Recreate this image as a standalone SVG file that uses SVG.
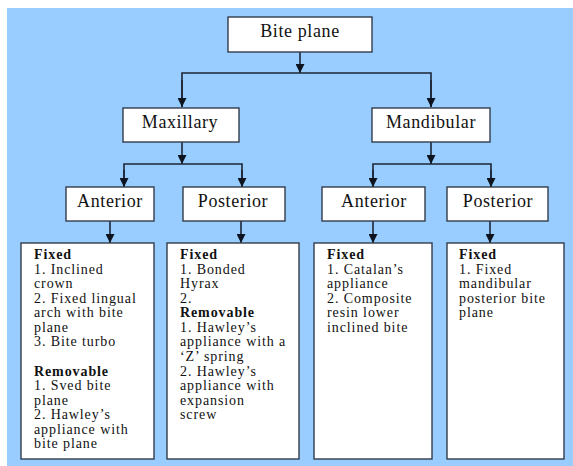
<svg xmlns="http://www.w3.org/2000/svg" width="573" height="466" viewBox="0 0 573 466">
<style>
.box{fill:#ffffff;stroke:#323c4b;stroke-width:1.4}
.head{font-family:"Liberation Serif","Times New Roman","DejaVu Serif",serif;font-size:18px;letter-spacing:0.6px;fill:#111111;text-anchor:middle}
.body{font-family:"Liberation Serif","Times New Roman","DejaVu Serif",serif;font-size:14px;letter-spacing:0.9px;fill:#111111}
.b{font-weight:bold}
.ln{fill:none;stroke:#1c2636;stroke-width:1.6}
</style>
<defs>
<marker id="ah" viewBox="0 0 10 10" refX="10" refY="5" markerWidth="9" markerHeight="9" markerUnits="userSpaceOnUse" orient="auto">
<path d="M0,0 L10,5 L0,10 z" fill="#0d1420"/>
</marker>
</defs>
<rect x="7" y="8" width="566" height="458" fill="#99ccff"/>
<g id="connectors">
<line class="ln" x1="300" y1="52" x2="300" y2="73" marker-end="url(#ah)"/>
<polyline class="ln" points="182,107 182,73 431,73 431,107"/>
<line class="ln" x1="182" y1="80" x2="182" y2="107" marker-end="url(#ah)"/>
<line class="ln" x1="431" y1="80" x2="431" y2="107" marker-end="url(#ah)"/>
<line class="ln" x1="182" y1="142" x2="182" y2="164" marker-end="url(#ah)"/>
<polyline class="ln" points="124,187 124,164 242,164 242,187"/>
<line class="ln" x1="124" y1="170" x2="124" y2="187" marker-end="url(#ah)"/>
<line class="ln" x1="242" y1="170" x2="242" y2="187" marker-end="url(#ah)"/>
<line class="ln" x1="431" y1="142" x2="431" y2="164" marker-end="url(#ah)"/>
<polyline class="ln" points="373,187 373,164 491,164 491,187"/>
<line class="ln" x1="373" y1="170" x2="373" y2="187" marker-end="url(#ah)"/>
<line class="ln" x1="491" y1="170" x2="491" y2="187" marker-end="url(#ah)"/>
<line class="ln" x1="110" y1="221" x2="110" y2="243" marker-end="url(#ah)"/>
<line class="ln" x1="241" y1="221" x2="241" y2="243" marker-end="url(#ah)"/>
<line class="ln" x1="373" y1="221" x2="373" y2="243" marker-end="url(#ah)"/>
<line class="ln" x1="490" y1="221" x2="490" y2="243" marker-end="url(#ah)"/>
</g>
<g id="bite-plane">
<rect class="box" x="228" y="17" width="144" height="35"/>
<text class="head" x="300" y="37">Bite plane</text>
</g>
<g id="maxillary">
<rect class="box" x="123" y="108" width="116" height="34"/>
<text class="head" x="180" y="128">Maxillary</text>
</g>
<g id="mandibular">
<rect class="box" x="372" y="108" width="118" height="34"/>
<text class="head" x="431" y="128">Mandibular</text>
</g>
<g id="max-anterior">
<rect class="box" x="66" y="187" width="88" height="34"/>
<text class="head" x="110" y="207">Anterior</text>
</g>
<g id="max-posterior">
<rect class="box" x="183" y="187" width="102" height="34"/>
<text class="head" x="233" y="207">Posterior</text>
</g>
<g id="mand-anterior">
<rect class="box" x="322" y="187" width="103" height="34"/>
<text class="head" x="374" y="207">Anterior</text>
</g>
<g id="mand-posterior">
<rect class="box" x="447" y="187" width="101" height="34"/>
<text class="head" x="498" y="207">Posterior</text>
</g>
<g id="max-anterior-list">
<rect class="box" x="21" y="243" width="133" height="216"/>
<text class="body" x="34">
<tspan class="b" x="34" y="259">Fixed</tspan>
<tspan x="34" y="274">1. Inclined</tspan>
<tspan x="34" y="288">crown</tspan>
<tspan x="34" y="303">2. Fixed lingual</tspan>
<tspan x="34" y="317">arch with bite</tspan>
<tspan x="34" y="332">plane</tspan>
<tspan x="34" y="346">3. Bite turbo</tspan>
<tspan class="b" x="34" y="376">Removable</tspan>
<tspan x="34" y="390">1. Sved bite</tspan>
<tspan x="34" y="405">plane</tspan>
<tspan x="34" y="419">2. Hawley’s</tspan>
<tspan x="34" y="434">appliance with</tspan>
<tspan x="34" y="448">bite plane</tspan>
</text>
</g>
<g id="max-posterior-list">
<rect class="box" x="167" y="243" width="132" height="216"/>
<text class="body" x="180">
<tspan class="b" x="180" y="259">Fixed</tspan>
<tspan x="180" y="274">1. Bonded</tspan>
<tspan x="180" y="288">Hyrax</tspan>
<tspan x="180" y="303">2.</tspan>
<tspan class="b" x="180" y="317">Removable</tspan>
<tspan x="180" y="332">1. Hawley’s</tspan>
<tspan x="180" y="346">appliance with a</tspan>
<tspan x="180" y="361">‘Z’ spring</tspan>
<tspan x="180" y="376">2. Hawley’s</tspan>
<tspan x="180" y="390">appliance with</tspan>
<tspan x="180" y="405">expansion</tspan>
<tspan x="180" y="419">screw</tspan>
</text>
</g>
<g id="mand-anterior-list">
<rect class="box" x="314" y="243" width="118" height="216"/>
<text class="body" x="327">
<tspan class="b" x="327" y="259">Fixed</tspan>
<tspan x="327" y="274">1. Catalan’s</tspan>
<tspan x="327" y="288">appliance</tspan>
<tspan x="327" y="303">2. Composite</tspan>
<tspan x="327" y="317">resin lower</tspan>
<tspan x="327" y="332">inclined bite</tspan>
</text>
</g>
<g id="mand-posterior-list">
<rect class="box" x="447" y="243" width="117" height="216"/>
<text class="body" x="459">
<tspan class="b" x="459" y="259">Fixed</tspan>
<tspan x="459" y="274">1. Fixed</tspan>
<tspan x="459" y="288">mandibular</tspan>
<tspan x="459" y="303">posterior bite</tspan>
<tspan x="459" y="317">plane</tspan>
</text>
</g>
</svg>
